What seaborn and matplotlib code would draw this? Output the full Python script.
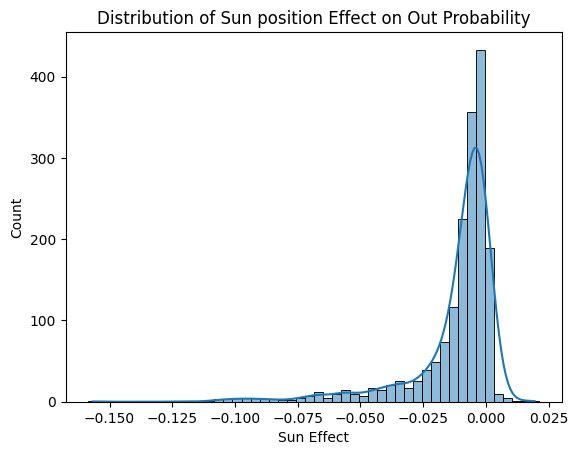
# Histogram + KDE of the sun position effect on out probability.
# Counts per bin (50 bins).

import numpy as np
import matplotlib
matplotlib.use("Agg")
import matplotlib.pyplot as plt
import seaborn as sns

# data range of the histogram (left edge of first bin, right edge of last)
range_lo = -0.1585
range_hi = 0.0212
n_bins = 50

# counts per bin, left to right
counts = [
    1, 0, 0, 0, 0, 0, 0, 0, 0, 0,
    1, 0, 0, 1, 3, 3, 4, 4, 4, 3,
    3, 2, 2, 5, 7, 12, 5, 10, 15, 10,
    7, 17, 15, 21, 26, 17, 26, 39, 49, 73,
    116, 225, 357, 433, 189, 10, 4, 1, 1, 1,
]

width = (range_hi - range_lo) / n_bins
centers = np.linspace(range_lo + width / 2, range_hi - width / 2, n_bins)

# weighted kde uses the effective sample size; scale the bandwidth back
# to roughly what the raw observations gave (Scott's rule, slightly tighter)
w = np.asarray(counts, dtype=float)
n_eff = w.sum() ** 2 / (w ** 2).sum()
bw = 0.94 * (n_eff / w.sum()) ** 0.2

fig, ax = plt.subplots()
sns.histplot(
    x=centers,
    weights=counts,
    bins=n_bins,
    binrange=(range_lo, range_hi),
    kde=True,
    kde_kws={"bw_adjust": bw},
    ax=ax,
)
ax.set_title("Distribution of Sun position Effect on Out Probability")
ax.set_xlabel("Sun Effect")
ax.set_ylabel("Count")

plt.savefig("out.png", dpi=100, bbox_inches="tight")
